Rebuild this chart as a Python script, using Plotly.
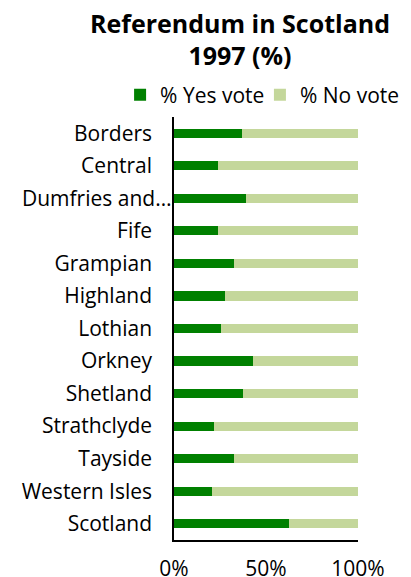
import plotly.graph_objects as go

regions = ["Borders", "Central", "Dumfries and Galloway", "Fife", "Grampian",
           "Highland", "Lothian", "Orkney", "Shetland", "Strathclyde",
           "Tayside", "Western Isles", "Scotland"]
region_labels = ["Borders", "Central", "Dumfries and…", "Fife", "Grampian",
                 "Highland", "Lothian", "Orkney", "Shetland", "Strathclyde",
                 "Tayside", "Western Isles", "Scotland"]
yes_vote = [37.2, 23.9, 39.2, 23.9, 32.4, 27.7, 25.5, 42.8, 37.5, 21.9, 32.4, 20.6, 62.7]
no_vote = [62.8, 76.1, 60.8, 76.1, 67.6, 72.3, 74.5, 57.2, 62.5, 78.1, 67.6, 79.4, 37.3]
x_ticks = [0, 50, 100]
x_tick_labels = ["0%", "50%", "100%"]

YES_COL = "#008000"
NO_COL = "#c4d79b"
FONT = "Open Sans"

# the truncated label runs right up to the axis (as in Excel), so it is drawn
# as an annotation on its category instead of as a regular tick label
LONG = region_labels[2]
tick_text = ["" if t == LONG else t for t in region_labels]

fig = go.Figure()
fig.add_trace(go.Bar(y=regions, x=yes_vote, orientation="h", name="% Yes vote",
                     marker=dict(color=YES_COL, line=dict(width=0)), legend="legend"))
fig.add_trace(go.Bar(y=regions, x=no_vote, orientation="h", name="% No vote",
                     marker=dict(color=NO_COL, line=dict(width=0)), legend="legend2"))

fig.add_annotation(x=0, xref="paper", y=regions[2], yref="y", text=LONG,
                   xanchor="right", yanchor="middle", xshift=0, showarrow=False,
                   font=dict(size=21, family=FONT, color="#000000"))

# the page body adds an 8px margin, so margins are set 8px smaller than the target
leg = dict(orientation="h", xanchor="left", y=1.052, yanchor="middle",
           font=dict(size=21), itemwidth=30, bgcolor="rgba(0,0,0,0)")
fig.update_layout(
    width=411, height=577,
    barmode="stack", barnorm="percent", bargap=0.72,
    paper_bgcolor="white", plot_bgcolor="white",
    font=dict(family=FONT, color="#000000", size=21),
    title=dict(text="<b>Referendum in Scotland<br>1997 (%)</b>",
               x=0.5645, xanchor="center", yref="container", y=0.957, yanchor="top",
               font=dict(size=25, family=FONT)),
    legend=dict(leg, x=-0.293),
    legend2=dict(leg, x=0.467),
    margin=dict(l=166, r=61, t=109, b=45),
    showlegend=True,
)
fig.update_yaxes(autorange="reversed", tickmode="array", tickvals=regions,
                 ticktext=tick_text, showline=True, linecolor="#000000",
                 linewidth=1.5, ticks="", showgrid=False, ticklabelstandoff=16,
                 automargin=False)
fig.update_xaxes(range=[0, 100], tickmode="array", tickvals=x_ticks,
                 ticktext=x_tick_labels,
                 showline=True, linecolor="#000000", linewidth=1.5,
                 showgrid=False, zeroline=False, ticks="", ticklabelstandoff=9,
                 automargin=False)

fig.write_html("out.html")
